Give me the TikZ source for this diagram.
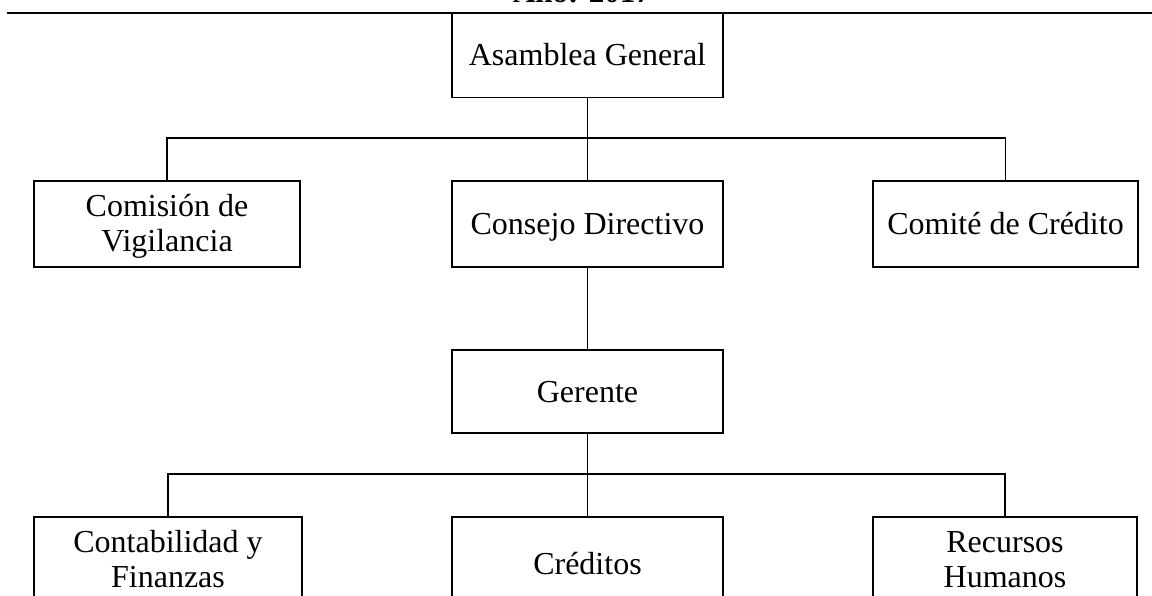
\documentclass[tikz,border=0pt]{standalone}
\usepackage{fontspec}
\setmainfont{Liberation Serif}
\begin{document}
\begin{tikzpicture}[x=1pt,y=-1pt,
  line width=1.2pt,
  orgbox/.style={draw, line width=1.2pt, minimum width=270pt, minimum height=86pt, inner sep=0pt, align=center,
    text height=21pt, text depth=0pt, font=\fontsize{32}{35}\selectfont},
  twobox/.style={orgbox, text height=56pt},
  link/.style={draw, line width=1.2pt}]
\useasboundingbox (0,0) rectangle (1152,596);
% title (cut off at the top)
\node[anchor=base, font=\fontsize{31}{35}\selectfont\bfseries, inner sep=0pt] (title) at (582,3) {Año: 2017};
\coordinate (ruleL) at (7,13);
\coordinate (ruleR) at (1152,13);
\draw[line width=1.3pt] (ruleL) -- (ruleR);
% boxes
\node[orgbox, minimum width=271pt, minimum height=84pt] (ag) at (587.5,55.5) {Asamblea General};
\node[twobox, minimum width=266pt] (cv) at (167,224) {Comisión de\\Vigilancia};
\node[orgbox, minimum width=271pt] (cd) at (587.5,224) {Consejo Directivo};
\node[orgbox, minimum width=265pt] (cc) at (1005.5,224) {Comité de Crédito};
\node[orgbox, minimum width=271pt, minimum height=83pt] (ge) at (587.5,391.5) {Gerente};
\node[twobox, minimum width=268pt, minimum height=84pt] (cf) at (168,559) {Contabilidad y\\Finanzas};
\node[orgbox, minimum width=271pt, minimum height=94pt] (cr) at (587.5,564) {Créditos};
\node[twobox, minimum width=264pt, minimum height=84pt] (rh) at (1005,559) {Recursos\\Humanos};
% connectors
\coordinate (j1) at (587.5,138);
\coordinate (j2) at (587.5,474);
\draw[link] (ag.south) -- (j1);
\draw[link] (j1) -| (cv.north);
\draw[link] (j1) -| (cc.north);
\draw[link] (cd.north) -- (j1);
\draw[link] (cd.south) -- (ge.north);
\draw[link] (ge.south) -- (j2);
\draw[link] (j2) -| (cf.north);
\draw[link] (j2) -| (rh.north);
\draw[link] (j2) -- (cr.north);
\end{tikzpicture}
\end{document}
